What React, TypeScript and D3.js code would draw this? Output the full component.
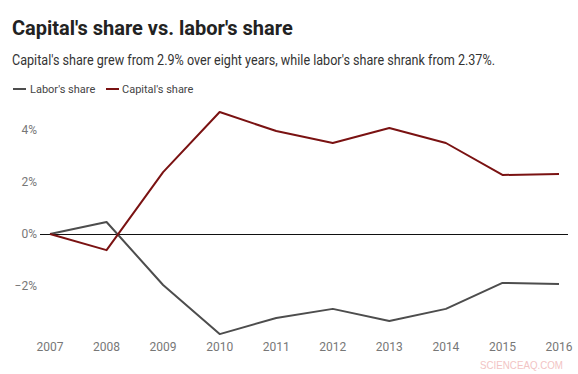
import * as d3 from "d3";

// chart data
const years = [2007, 2008, 2009, 2010, 2011, 2012, 2013, 2014, 2015, 2016];
const laborShare = [0, 0.46, -1.96, -3.85, -3.23, -2.88, -3.35, -2.88, -1.88, -1.92];
const capitalShare = [0, -0.62, 2.38, 4.69, 3.96, 3.5, 4.08, 3.5, 2.27, 2.31];
const yTicks = [4, 2, 0, -2];

const width = 578;
const height = 374;
const font = "Roboto, 'Noto Sans', sans-serif";

const App = () => {
	// x scale: years mapped to the plot span
	const xScale = d3.scalePoint<number>().domain(years).range([50, 559]);
	// y scale: 26px per percentage point, 0% at y=234
	const yScale = d3.scaleLinear().domain([-4, 5]).range([338, 104]);

	const line = d3
		.line<number>()
		.x((_, i) => xScale(years[i])!)
		.y((d) => yScale(d));

	return (
		<svg width={width} height={height} style={{ position: "fixed", left: 0, top: 0 }}>
			<rect width={width} height={height} fill="white" />
			<text x={12} y={35} fontFamily={font} fontWeight={700} fontSize={20} fill="#222">
				Capital's share vs. labor's share
			</text>
			<text x={12} y={65} fontFamily={font} fontSize={14} fill="#333" textLength={483} lengthAdjust="spacingAndGlyphs">
				Capital's share grew from 2.9% over eight years, while labor's share shrank from 2.37%.
			</text>

			{/* legend */}
			<line x1={13} x2={26} y1={89} y2={89} stroke="#4d4d4d" strokeWidth={2} />
			<text x={30} y={93} fontFamily={font} fontSize={11} fill="#444">
				Labor's share
			</text>
			<line x1={106} x2={119} y1={89} y2={89} stroke="#7a1212" strokeWidth={2} />
			<text x={122} y={93} fontFamily={font} fontSize={11} fill="#444">
				Capital's share
			</text>

			{/* y axis labels */}
			{yTicks.map((t) => (
				<text key={t} x={37} y={yScale(t) + 4} textAnchor="end" fontFamily={font} fontSize={12} fill="#777">
					{t < 0 ? `\u2212${-t}%` : `${t}%`}
				</text>
			))}

			{/* zero line, nudged half a pixel to keep it crisp */}
			<line x1={40} x2={568} y1={yScale(0) + 0.5} y2={yScale(0) + 0.5} stroke="#111" strokeWidth={1} />

			{/* x axis labels */}
			{years.map((y) => (
				<text key={y} x={xScale(y)} y={351} textAnchor="middle" fontFamily={font} fontSize={12} fill="#777">
					{y}
				</text>
			))}

			<path d={line(laborShare)!} fill="none" stroke="#4d4d4d" strokeWidth={2} strokeLinejoin="round" />
			<path d={line(capitalShare)!} fill="none" stroke="#7a1212" strokeWidth={2} strokeLinejoin="round" />

			<text x={480} y={369} fontFamily="'Liberation Sans', Arial, sans-serif" fontSize={11} fill="#f2c4c4" textLength={83} lengthAdjust="spacingAndGlyphs">
				SCIENCEAQ.COM
			</text>
		</svg>
	);
};

export default App;
